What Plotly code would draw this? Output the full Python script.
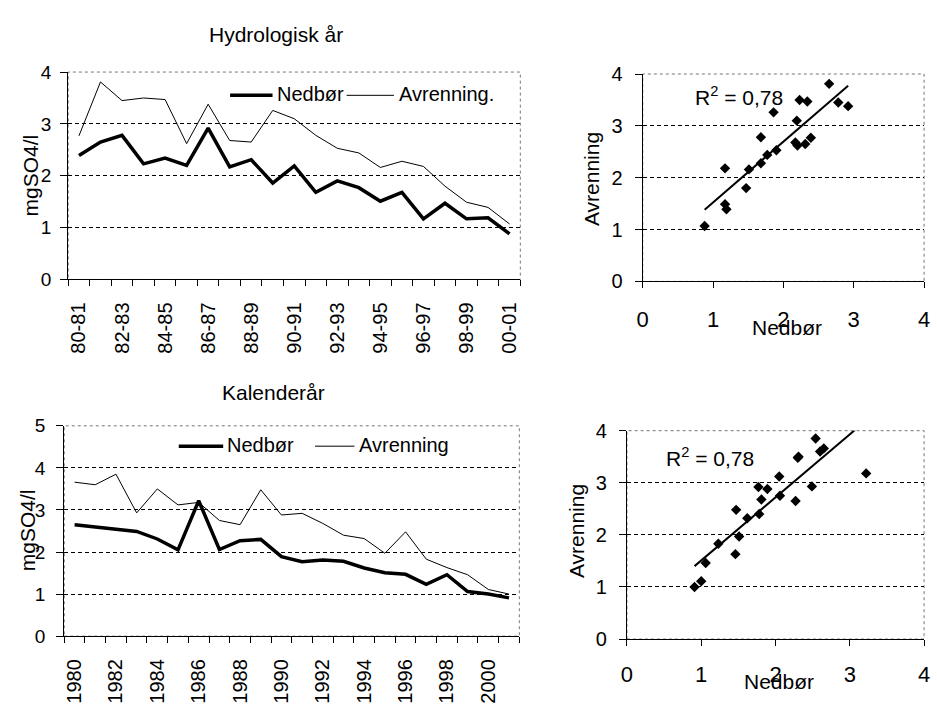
import numpy as np
import plotly.graph_objects as go

W, H = 937, 715
FONT = "Arial, 'Liberation Sans', sans-serif"

# Hydrological years (Oct-Sep), mg SO4/l
hydro_years = ["80-81", "81-82", "82-83", "83-84", "84-85", "85-86", "86-87",
               "87-88", "88-89", "89-90", "90-91", "91-92", "92-93", "93-94",
               "94-95", "95-96", "96-97", "97-98", "98-99", "99-00", "00-01"]
hydro_nedbor = [2.39, 2.65, 2.78, 2.23, 2.34, 2.20, 2.92, 2.17, 2.31, 1.86, 2.19,
                1.68, 1.90, 1.77, 1.51, 1.68, 1.17, 1.47, 1.17, 1.19, 0.88]
hydro_avrenning = [2.77, 3.81, 3.45, 3.50, 3.47, 2.62, 3.38, 2.68, 2.65, 3.26, 3.10,
                   2.78, 2.53, 2.44, 2.16, 2.28, 2.18, 1.80, 1.49, 1.39, 1.07]

# Calendar years, mg SO4/l
cal_years = ["1980", "1981", "1982", "1983", "1984", "1985", "1986", "1987",
             "1988", "1989", "1990", "1991", "1992", "1993", "1994", "1995",
             "1996", "1997", "1998", "1999", "2000", "2001"]
cal_nedbor = [2.65, 2.60, 2.54, 2.49, 2.31, 2.05, 3.22, 2.06, 2.27, 2.30, 1.89,
              1.77, 1.81, 1.78, 1.62, 1.51, 1.47, 1.23, 1.46, 1.06, 1.00, 0.91]
cal_avrenning = [3.66, 3.60, 3.85, 2.93, 3.50, 3.12, 3.18, 2.75, 2.65, 3.48, 2.88,
                 2.92, 2.68, 2.40, 2.32, 1.97, 2.48, 1.83, 1.63, 1.46, 1.11, 1.00]

r2_text = "R<sup>2</sup> = 0,78"


def fx(p):
    return p / W


def fy(p):
    return 1 - p / H


def cat_xaxis(x0, x1, anchor, labels):
    n = len(labels)
    return dict(domain=[fx(x0), fx(x1)], anchor=anchor, range=[-0.5, n - 0.5],
                tickmode="array", tickvals=list(range(0, n, 2)), ticktext=labels[::2],
                ticks="", tickangle=-90, ticklabelstandoff=14,
                tickfont=dict(size=20, color="black", family=FONT),
                showline=True, linecolor="black", linewidth=1,
                showgrid=False, zeroline=False, fixedrange=True,
                minor=dict(tickmode="linear", tick0=-0.5, dtick=1, ticks="outside",
                           ticklen=6, tickcolor="black", tickwidth=1, showgrid=False))


def val_yaxis(y0, y1, anchor, top, size, standoff):
    return dict(domain=[fy(y1), fy(y0)], anchor=anchor, range=[0, top],
                tickmode="linear", tick0=0, dtick=1, ticks="outside", ticklen=7,
                tickcolor="black", ticklabelstandoff=standoff,
                tickfont=dict(size=size, color="black", family=FONT),
                showline=True, linecolor="black", linewidth=1,
                showgrid=True, gridcolor="black", griddash="4px,3px", gridwidth=1,
                zeroline=False, fixedrange=True)


def num_xaxis(x0, x1, anchor, size, standoff):
    return dict(domain=[fx(x0), fx(x1)], anchor=anchor, range=[0, 4],
                tickmode="linear", tick0=0, dtick=1, ticks="outside", ticklen=6,
                tickcolor="black", ticklabelstandoff=standoff,
                tickfont=dict(size=size, color="black", family=FONT),
                showline=True, linecolor="black", linewidth=1,
                showgrid=False, zeroline=False, fixedrange=True)


fig = go.Figure()

# Time series: thin runoff line, thick precipitation line
fig.add_trace(go.Scatter(x=list(range(len(hydro_years))), y=hydro_avrenning, mode="lines",
                         line=dict(color="black", width=1), xaxis="x", yaxis="y"))
fig.add_trace(go.Scatter(x=list(range(len(hydro_years))), y=hydro_nedbor, mode="lines",
                         line=dict(color="black", width=3.5), xaxis="x", yaxis="y"))
fig.add_trace(go.Scatter(x=list(range(len(cal_years))), y=cal_avrenning, mode="lines",
                         line=dict(color="black", width=1), xaxis="x3", yaxis="y3"))
fig.add_trace(go.Scatter(x=list(range(len(cal_years))), y=cal_nedbor, mode="lines",
                         line=dict(color="black", width=3.5), xaxis="x3", yaxis="y3"))

# Scatter plots with linear trend lines
for xs, ys, xa, ya in [(hydro_nedbor, hydro_avrenning, "x2", "y2"),
                       (cal_nedbor, cal_avrenning, "x4", "y4")]:
    slope, icpt = np.polyfit(xs, ys, 1)
    lx = [min(xs), max(xs)]
    fig.add_trace(go.Scatter(x=lx, y=[slope * v + icpt for v in lx], mode="lines",
                             line=dict(color="black", width=2), xaxis=xa, yaxis=ya))
    fig.add_trace(go.Scatter(x=xs, y=ys, mode="markers",
                             marker=dict(symbol="diamond", size=8, color="black"),
                             xaxis=xa, yaxis=ya))

layout = dict(
    width=W, height=H, margin=dict(l=0, r=0, t=0, b=0),
    paper_bgcolor="white", plot_bgcolor="white", showlegend=False,
    font=dict(family=FONT, color="black"),
    xaxis=cat_xaxis(63, 521, "y", hydro_years),
    yaxis=val_yaxis(63, 277, "x", 4, 19, 5),
    xaxis3=cat_xaxis(59, 520, "y3", cal_years),
    yaxis3=val_yaxis(428, 645, "x3", 5, 19, 7),
    xaxis2=num_xaxis(645, 930, "y2", 22, 12),
    yaxis2=val_yaxis(65, 279, "x2", 4, 20, 8),
    xaxis4=num_xaxis(629, 930, "y4", 22, 10),
    yaxis4=val_yaxis(433, 648, "x4", 4, 20, 8),
)

# dotted plot-area frames
shapes = []
for xa, ya in [("x", "y"), ("x2", "y2"), ("x3", "y3"), ("x4", "y4")]:
    shapes.append(dict(type="rect", xref=f"{xa} domain", yref=f"{ya} domain",
                       x0=0, x1=1, y0=0, y1=1, layer="below",
                       line=dict(color="#777777", width=1, dash="dot")))

# legend keys
for (a, b, yy, w) in [(227, 270, 87, 3.5), (345, 393, 87, 1),
                      (175, 220, 449, 3.5), (313, 353, 449, 1)]:
    shapes.append(dict(type="line", xref="paper", yref="paper",
                       x0=fx(a), x1=fx(b), y0=fy(yy), y1=fy(yy),
                       line=dict(color="black", width=w)))
layout["shapes"] = shapes


def ann(text, x, y, size=21, angle=0, xanchor="center"):
    return dict(text=text, x=fx(x), y=fy(y), xref="paper", yref="paper",
                showarrow=False, textangle=angle, xanchor=xanchor, yanchor="middle",
                font=dict(size=size, color="black", family=FONT))


layout["annotations"] = [
    ann("Hydrologisk år", 273, 24),
    ann("Kalenderår", 271, 394),
    ann("mgSO4/l", 25, 170, 21, -90),
    ann("mgSO4/l", 22, 536, 21, -90),
    ann("Nedbør", 272, 86, 20, xanchor="left"),
    ann("Avrenning.", 396, 86, 20, xanchor="left"),
    ann("Nedbør", 222, 448, 20, xanchor="left"),
    ann("Avrenning", 356, 448, 20, xanchor="left"),
    ann("Avrenning", 593, 173, 21, -90),
    ann("Avrenning", 578, 537, 21, -90),
    ann("Nedbør", 791, 327, 21),
    ann("Nedbør", 783, 692, 21),
    ann(r2_text, 743, 88, 21),
    ann(r2_text, 713, 460, 21),
]

fig.update_layout(**layout)
fig.write_html("out.html")
